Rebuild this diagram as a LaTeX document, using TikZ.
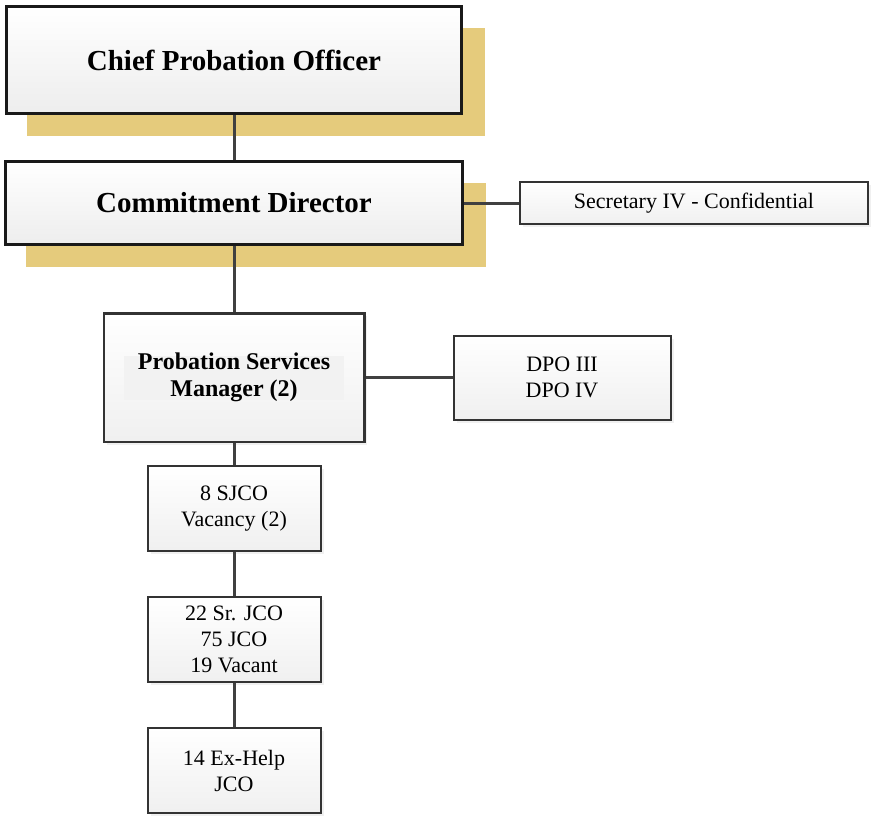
\documentclass[tikz,border=0pt]{standalone}
\usepackage{fontspec}
\setmainfont{Liberation Serif}
\usetikzlibrary{positioning, shadows}
\definecolor{goldshade}{RGB}{229,203,124}
\definecolor{linkgray}{RGB}{64,64,64}

\begin{document}
\begin{tikzpicture}[
        x=1pt, y=1pt,
        node distance=45pt,
        headbox/.style={draw=black!90, line width=3pt, top color=white, bottom color=black!7, align=center,
            inner sep=0pt, font=\fontsize{29}{34}\selectfont\bfseries,
            drop shadow={fill=goldshade, opacity=1, shadow xshift=22pt, shadow yshift=-22pt, shadow scale=1.005}},
        unitbox/.style={draw=black!80, line width=2pt, top color=white, bottom color=black!6, align=center,
            inner sep=0pt, font=\fontsize{22}{26}\selectfont,
            drop shadow={opacity=0.12, shadow xshift=3pt, shadow yshift=-3pt}},
        textband/.style={path picture={\fill[black!5] ([shift={(-110pt,-22pt)}]path picture bounding box.center)
            rectangle ([shift={(110pt,22pt)}]path picture bounding box.center);}},
        link/.style={draw=linkgray, line width=3pt}
    ]
    \useasboundingbox (0,0) rectangle (872,-817);
    % Nodes
    \node[headbox, minimum width=455pt, minimum height=107pt] (cpo) at (234,-60) {Chief Probation Officer};
    \node[headbox, minimum width=457pt, minimum height=83pt, below=45pt of cpo] (cd) {Commitment Director};
    \node[unitbox, minimum width=348pt, minimum height=42pt, right=55pt of cd] (sec) {Secretary IV - Confidential};
    \node[unitbox, textband, line width=2.5pt, minimum width=260.5pt, minimum height=128.5pt, below=66pt of cd,
        font=\fontsize{24}{27}\selectfont\bfseries] (psm) {Probation Services\\ Manager (2)};
    \node[unitbox, minimum width=217pt, minimum height=84pt, right=87pt of psm] (dpo) {DPO III\\ DPO IV};
    \node[unitbox, minimum width=173pt, minimum height=85pt, below=22pt of psm] (sjco) {8 SJCO\\ Vacancy (2)};
    \node[unitbox, minimum width=173pt, minimum height=85pt, below=44pt of sjco] (jco) {22 Sr. JCO\\ 75 JCO\\ 19 Vacant};
    \node[unitbox, minimum width=173pt, minimum height=85pt, below=44pt of jco] (exhelp) {14 Ex-Help\\ JCO};

    % Connectors
    \draw[link] (cpo) -- (cd);
    \draw[link] (cd) -- (psm);
    \draw[link] (cd) -- (sec);
    \draw[link] (psm) -- (dpo);
    \draw[link] (psm) -- (sjco);
    \draw[link] (sjco) -- (jco);
    \draw[link] (jco) -- (exhelp);
\end{tikzpicture}
\end{document}
